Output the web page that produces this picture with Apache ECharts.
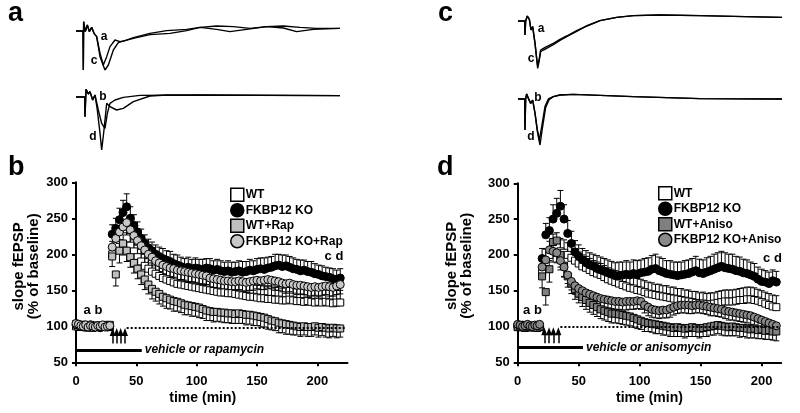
<!DOCTYPE html>
<html><head><meta charset="utf-8">
<script src="https://cdn.jsdelivr.net/npm/echarts@6/dist/echarts.min.js"></script>
<style>html,body{margin:0;padding:0;background:#fff}#c{width:800px;height:413px}</style>
</head><body><div id="c"></div>
<script>
// ===== Example traces (ms, mV) =====
const trA_top_t = [0,1.06,1.11,1.16,1.41,1.72,2.02,2.37,2.73,3.13,3.64,4.14,4.65,5.15,5.91,6.67,7.42,8.69,11.21,13.74,16.77,18.79,21.31,23.84,26.36,28.89,31.41,33.94,36.46,40];
const trA_top_v = [0,0,-0.78,0.187,-0.013,0.12,-0.013,0.073,-0.047,-0.113,-0.447,-0.68,-0.513,-0.313,-0.18,-0.213,-0.193,-0.133,-0.047,0.007,0.033,0.073,0.1,0.087,0.053,0.087,0.1,0.073,0.053,0.053];
const trC_top_t = [0,1.06,1.11,1.16,1.41,1.72,2.02,2.37,2.73,3.13,3.64,4.39,4.90,5.66,6.41,7.42,8.69,11.21,14.24,16.77,18.79,21.31,23.33,25.86,28.89,31.41,33.43,35.96,40];
const trC_top_v = [0,0,-0.78,0.187,-0.013,0.12,-0.013,0.073,-0.047,-0.113,-0.513,-0.78,-0.68,-0.38,-0.233,-0.193,-0.147,-0.073,-0.047,0.007,0.073,0.033,-0.013,0.033,0.087,0.06,-0.013,0.033,0.053];
const trB_bot_t = [0,1.31,1.36,1.52,1.87,2.12,2.53,2.88,3.38,3.89,4.39,4.75,5.15,5.91,7.17,9.70,18.79,40];
const trB_bot_v = [0,0,-0.393,0.153,0.06,0.107,-0.06,0.04,-0.26,-0.527,-0.627,-0.327,-0.127,-0.06,-0.007,0.033,0.04,0.027];
const trD_bot_t = [0,1.31,1.36,1.52,1.87,2.12,2.53,2.88,3.23,3.64,3.89,4.24,4.65,5.15,6.16,7.17,8.69,11.21,13.74,40];
const trD_bot_v = [0,0,-0.393,0.153,0.06,0.107,-0.06,0.04,-0.26,-0.727,-1.06,-0.66,-0.127,-0.193,-0.26,-0.227,-0.093,0.02,0.04,0.027];
// panel c traces
const cA_t = [0,1.01,1.06,1.16,1.41,1.72,1.97,2.22,2.58,2.83,2.98,3.23,3.43,3.84,4.34,5.35,6.36,7.37,8.89,10.40,12.42,14.95,17.47,21.52,27.58,32.63,40];
const cA_v = [0,0,-0.28,0,0.1,0.033,-0.18,-0.113,-0.447,-0.747,-0.9,-0.747,-0.58,-0.547,-0.513,-0.447,-0.367,-0.3,-0.193,-0.1,0.007,0.073,0.107,0.12,0.107,0.093,0.073];
const cC_t = [0,1.01,1.06,1.16,1.41,1.72,1.97,2.22,2.58,2.83,2.98,3.23,3.43,3.84,4.34,5.35,6.36,7.37,8.89,10.40,12.42,14.95,17.47,21.52,27.58,32.63,40];
const cC_v = [0,0,-0.28,0,0.1,0.033,-0.18,-0.113,-0.447,-0.76,-0.947,-0.78,-0.613,-0.58,-0.547,-0.473,-0.387,-0.313,-0.207,-0.1,0.007,0.073,0.107,0.12,0.107,0.093,0.073];
const cB_t = [0,1.01,1.06,1.16,1.31,1.57,1.92,2.22,2.58,2.93,3.23,3.59,4.09,4.60,5.35,6.36,8.38,12.42,17.47,27.58,40];
const cB_v = [0,0,-0.62,0,0.1,0.013,-0.087,-0.02,-0.287,-0.62,-0.82,-0.553,-0.153,0,0.047,0.08,0.093,0.073,0.047,0.007,0];
const cD_t = [0,1.01,1.06,1.16,1.31,1.57,1.92,2.22,2.58,2.93,3.33,3.69,4.19,4.70,5.35,6.36,8.38,12.42,17.47,27.58,40];
const cD_v = [0,0,-0.62,0,0.1,0.013,-0.087,-0.02,-0.287,-0.64,-0.92,-0.587,-0.167,-0.013,0.047,0.08,0.093,0.073,0.047,0.007,0];

// ===== Panel b (rapamycin) =====
const timesB = [0,2,4,6,8,10,12,14,16,18,20,22,24,26,28,30,33,36,39,42,45,48,51,54,57,60,63,66,69,72,75,78,81,84,87,90,93,96,99,102,105,108,111,114,117,120,123,126,129,132,135,138,141,144,147,150,153,156,159,162,165,168,171,174,177,180,183,186,189,192,195,198,201,204,207,210,213,216,219];
const wtB = [100,99,101,102,100,98,101,100,99,100,101,99,100,102,99, 200,212,220,225,222,212,204,196,190,184, 180,176,173,170,167,165,163,161,159,158, 157,156,155,154,153,152,151,150,149,148, 147,147,146,146,145,144,143,142,141,141, 140,139,139,138,138,137,137,136,136,137, 136,135,135,134,135,134,133,134,133,134, 133,132,133,133];
const wtBerr = [5,5,4,5,4,5,5,4,5,5,4,5,5,4,5, 18,19,20,20,19,18,18,17,17,17, 17,17,17,18,17,17,18,17,17,17, 18,17,17,18,17,18,17,17,18,17, 18,17,18,17,18,17,17,18,17,18, 17,18,17,18,18,17,18,17,18,17, 18,17,18,17,17,18,17,17,18,17, 17,18,17,17];
const koB = [102,101,100,99,101,100,102,99,100,101,98,100,101,99,100, 228,236,248,258,266,250,240,231,222,215, 209,205,200,197,194,192,190,187,185,183, 181,182,180,181,180,179,181,180,178,179, 177,176,177,175,176,177,175,176,178,177, 179,180,179,181,182,184,185,183,184,182, 180,179,177,178,176,175,173,172,170,169, 168,166,165,167];
const koBerr = [4,3,3,4,3,3,4,3,3,4,3,3,4,3,3, 13,14,16,17,18,16,15,14,13,12, 12,12,13,13,14,13,14,13,14,13, 13,14,13,14,13,14,13,14,13,14, 14,13,14,14,13,14,15,14,15,14, 15,15,16,15,15,16,15,16,15,15, 15,14,15,14,14,15,14,13,14,13, 13,14,13,13];
const wtRapB = [103,102,100,101,99,100,102,98,101,100,99,101,100,99,102, 197,172,205,215,205,196,188,180,172,165, 158,152,148,145,141,139,137,135,134,132, 130,129,128,127,126,124,122,121,120,120, 119,119,118,118,117,118,117,116,116,115, 114,113,112,110,108,107,105,104,103,102, 101,100,99,100,99,99,100,98,99,98, 97,98,97,97];
const wtRapBerr = [5,4,5,5,4,5,4,5,5,4,5,4,5,5,4, 14,16,17,16,15,14,14,14,14,14, 13,14,13,14,13,14,13,14,13,13, 14,13,14,13,14,13,14,13,14,13, 13,14,13,14,13,14,13,14,13,14, 13,14,13,14,13,13,14,13,14,13, 13,12,13,12,13,13,12,13,12,13, 13,12,13,12];
const koRapB = [104,103,101,100,102,99,101,100,99,101,100,102,99,100,101, 210,222,231,238,244,234,226,219,212,206, 200,196,191,188,185,183,181,180,178,177, 176,175,174,173,172,171,170,167,166,165, 164,163,163,162,162,163,162,161,162,163, 164,163,164,165,164,163,162,160,159,160, 158,157,157,156,155,154,155,154,155,156, 155,154,156,158];
const koRapBerr = [4,5,4,4,5,4,4,5,4,4,5,4,4,5,4, 13,14,14,15,15,14,13,12,12,12, 12,12,13,12,12,13,12,12,13,12, 12,13,12,12,13,12,12,13,12,12, 13,12,12,13,12,12,13,12,12,13, 12,12,13,12,12,13,12,12,13,12, 12,13,12,12,13,12,12,13,12,12, 13,12,12,13];
const arrowsB = [30.4,33.7,37,40.6];

// ===== Panel d (anisomycin) =====
const timesD = [0,2,4,6,8,10,12,14,16,18,20,23,26,29,32,35,38,41,44,47,50,53,56,59,62,65,68,71,74,77,80,83,86,89,92,95,98,101,104,107,110,113,116,119,122,125,128,131,134,137,140,143,146,149,152,155,158,161,164,167,170,173,176,179,182,185,188,191,194,197,200,203,206,209,212];
const wtD = [100,101,99,100,102,100,99,101,100,99, 175,190,200,210,212,205,203,200,196,192, 188,184,182,179,176,174,172,169,166,164, 162,160,158,156,154,153,151,150,148,146, 145,144,143,142,141,140,139,138,137,136, 135,134,133,132,132,131,131,132,133,134, 135,135,135,136,137,137,138,138,137,136, 134,132,130,128,127];
const wtDerr = [4,5,4,5,4,5,4,5,4,5, 17,18,19,19,19,18,18,17,17,17, 16,16,16,16,16,16,16,16,16,16, 16,16,16,16,16,16,16,16,16,16, 16,15,16,15,16,15,16,15,16,15, 16,15,16,15,16,15,16,15,16,16, 16,16,16,16,16,17,17,17,17,16, 16,16,16,16,16];
const koD = [101,100,102,99,100,101,99,100,102,100, 195,228,234,250,258,268,250,230,216,204, 198,193,189,186,184,181,179,177,175,173, 171,171,172,173,172,174,173,175,176,177, 180,181,178,176,174,173,172,171,172,173, 174,176,178,175,174,176,178,180,182,184, 182,181,180,178,177,175,174,172,170,166, 163,162,160,164,162];
const koDerr = [4,3,4,3,4,3,4,3,4,3, 14,16,18,20,21,22,20,18,17,16, 16,16,17,17,17,18,18,18,18,18, 18,19,18,19,18,19,19,18,19,19, 19,20,19,19,18,19,18,19,18,19, 19,19,20,19,19,20,20,21,21,21, 21,20,21,20,20,19,19,18,18,17, 17,16,16,15,15];
const wtAnD = [99,100,101,98,100,99,101,100,98,100, 170,148,180,218,220,200,185,170,160,152, 146,141,137,133,130,127,124,122,120,118, 118,117,116,115,114,112,110,108,106,105, 104,103,102,101,100,99,98,99,98,97, 98,99,98,97,98,99,100,101,102,101, 100,99,100,99,98,98,97,96,97,95, 96,94,95,93,93];
const wtAnDerr = [4,4,5,4,4,5,4,4,5,4, 16,18,18,20,18,17,16,15,14,14, 13,13,13,13,13,13,13,13,13,13, 13,13,13,13,13,13,13,12,13,12, 12,13,12,13,12,13,12,13,12,13, 12,13,12,13,12,13,12,13,12,13, 13,12,13,12,13,12,13,12,13,12, 13,12,13,12,13];
const koAnD = [103,102,100,101,103,101,100,102,101,103, 183,193,207,205,203,192,183,172,163,157, 153,150,147,145,143,141,139,138,137,136, 135,135,134,135,135,135,136,135,130,127, 124,123,122,123,123,125,127,129,130,130, 130,129,130,130,129,128,127,126,125,124, 122,121,120,119,118,117,116,115,113,111, 109,107,105,103,101];
const koAnDerr = [4,5,4,4,5,4,4,5,4,4, 13,14,15,15,14,13,13,12,12,12, 12,12,12,12,11,11,11,11,11,11, 11,11,11,12,11,11,11,11,11,12, 11,11,11,11,11,12,11,11,11,11, 12,11,11,11,11,11,12,11,11,11, 11,12,11,11,11,11,11,12,11,11, 11,11,11,12,11];
const arrowsD = [21.8,25.7,29.2,33.3];

const yTicks = [50,100,150,200,250,300];
const xTicks = [0,50,100,150,200];

// ===== build =====
const FONT = '"Liberation Sans", Arial, Helvetica, sans-serif';
const chart = echarts.init(document.getElementById('c'), null, {renderer:'canvas'});
const zip = (a,b) => a.map((x,i)=>[x,b[i]]);
const series = [];

function addTrace(g, t, v){
  series.push({type:'line', xAxisIndex:g, yAxisIndex:g, data:zip(t,v), showSymbol:false, symbol:'none',
    lineStyle:{color:'#000', width:1.4}, silent:true, animation:false, clip:false});
}
function renderErr(params, api){
  const t = api.value(0), lo = api.value(2), hi = api.value(3);
  const a = api.coord([t, lo]), b = api.coord([t, hi]);
  const st = () => ({stroke:'#000', lineWidth:1});
  return {type:'group', children:[
    {type:'line', shape:{x1:a[0],y1:a[1],x2:b[0],y2:b[1]}, style:st()},
    {type:'line', shape:{x1:a[0]-3,y1:a[1],x2:a[0]+3,y2:a[1]}, style:st()},
    {type:'line', shape:{x1:b[0]-3,y1:b[1],x2:b[0]+3,y2:b[1]}, style:st()}
  ]};
}
function addGroup(g, name, times, vals, errs, dir, symbol, size, fill, extra){
  series.push({type:'custom', xAxisIndex:g, yAxisIndex:g, renderItem:renderErr, silent:true, animation:false, clip:false,
    encode:{x:0, y:[1,2,3]},
    data: times.map((t,i)=>[t, vals[i], dir==='down'? vals[i]-errs[i] : vals[i], dir==='up'? vals[i]+errs[i] : vals[i]])});
  const s = {type:'scatter', name, xAxisIndex:g, yAxisIndex:g, data:zip(times, vals), symbol, symbolSize:size,
    itemStyle:{color:fill, borderColor:'#000', borderWidth:1, opacity:1}, silent:true, animation:false};
  if (extra) s.markLine = extra;
  series.push(s);
}
function annot(dotStart, dotEnd, dotY, barEnd, barY, barText, arrows, aLo, aHi){
  return {silent:true, animation:false, symbol:['none','none'], label:{show:false},
    data:[
      [{coord:[dotStart,dotY], lineStyle:{type:[2,2], width:2, color:'#000'}}, {coord:[dotEnd,dotY]}],
      [{coord:[0,barY], lineStyle:{type:'solid', width:3, color:'#000'},
        label:{show:true, position:'end', distance:3, formatter:barText, color:'#000', fontFamily:FONT, fontSize:12, fontWeight:'bold', fontStyle:'italic'}},
       {coord:[barEnd,barY]}],
      ...arrows.map(t=>[{coord:[t,aLo], lineStyle:{type:'solid', width:1.5, color:'#000'}},
                        {coord:[t,aHi], symbol:'triangle', symbolSize:[6,8]}])
    ]};
}

// traces
addTrace(0, trA_top_t, trA_top_v); addTrace(0, trC_top_t, trC_top_v);
addTrace(1, trB_bot_t, trB_bot_v); addTrace(1, trD_bot_t, trD_bot_v);
addTrace(2, cA_t, cA_v); addTrace(2, cC_t, cC_v);
addTrace(3, cB_t, cB_v); addTrace(3, cD_t, cD_v);

// panel b
addGroup(4, 'WT', timesB, wtB, wtBerr, 'up', 'rect', 7, '#ffffff',
  annot(42, 223, 98, 54.5, 67, 'vehicle or rapamycin', arrowsB, 76, 92));
addGroup(4, 'FKBP12 KO', timesB, koB, koBerr, 'up', 'circle', 8, '#000000');
addGroup(4, 'WT+Rap', timesB, wtRapB, wtRapBerr, 'down', 'rect', 7, '#bfbfbf');
addGroup(4, 'FKBP12 KO+Rap', timesB, koRapB, koRapBerr, 'down', 'circle', 8, '#c8c8c8');
// panel d
addGroup(5, 'WT', timesD, wtD, wtDerr, 'up', 'rect', 7, '#ffffff',
  annot(35, 214, 100, 53.5, 71, 'vehicle or anisomycin', arrowsD, 76.5, 93.3));
addGroup(5, 'FKBP12 KO', timesD, koD, koDerr, 'up', 'circle', 8, '#000000');
addGroup(5, 'WT+Aniso', timesD, wtAnD, wtAnDerr, 'down', 'rect', 7, '#808080');
addGroup(5, 'FKBP12 KO+Aniso', timesD, koAnD, koAnDerr, 'down', 'circle', 8, '#8a8a8a');

const hidden = (g, min, max) => ({gridIndex:g, type:'value', min, max, show:false});
function plotX(g, max, shift){
  return {gridIndex:g, type:'value', min:0, max, interval:50,
    axisLine:{show:true, onZero:false, lineStyle:{color:'#000', width:2}},
    axisTick:{show:true, length:4, lineStyle:{color:'#000', width:2}, customValues:xTicks},
    axisLabel:{customValues:xTicks, color:'#000', fontFamily:FONT, fontSize:13, fontWeight:'bold', margin:13},
    splitLine:{show:false},
    name:'time (min)', nameLocation:'middle', nameGap:29,
    nameTextStyle:{color:'#000', fontFamily:FONT, fontSize:14, fontWeight:'bold', padding:[0,shift,0,0]}};
}
function plotY(g, gap, shift){
  return {gridIndex:g, type:'value', min:50, max:300, interval:50,
    axisLine:{show:true, onZero:false, lineStyle:{color:'#000', width:2}},
    axisTick:{show:true, length:4, lineStyle:{color:'#000', width:2}},
    axisLabel:{color:'#000', fontFamily:FONT, fontSize:13, fontWeight:'bold', margin:8},
    splitLine:{show:false},
    name:'slope fEPSP\n(% of baseline)', nameLocation:'middle', nameGap:gap, nameRotate:90,
    nameTextStyle:{color:'#000', fontFamily:FONT, fontSize:15, fontWeight:'bold', lineHeight:15, padding:[0,0,0,shift]}};
}
const legendCommon = {orient:'vertical', itemWidth:13, itemHeight:13, itemGap:1, selectedMode:false, padding:0,
  textStyle:{color:'#000', fontFamily:FONT, fontSize:12, fontWeight:'bold', padding:[0,0,0,-3]},
  itemStyle:{borderColor:'#000', borderWidth:1.5}};

const txt = (x, y, s, size, align, extra) => Object.assign({type:'text', x, y, silent:true,
  style:{text:s, fill:'#000', font:'bold '+size+'px '+FONT, textAlign:align||'center', textVerticalAlign:'middle'}}, extra||{});

chart.setOption({
  animation:false,
  backgroundColor:'#fff',
  grid:[
    {left:76, top:11, width:264, height:60},
    {left:76, top:77, width:264, height:80},
    {left:518, top:1, width:264, height:70},
    {left:518, top:79, width:264, height:70},
    {left:76, top:182.3, width:271.5, height:180},
    {left:517.7, top:183.3, width:263.5, height:179}
  ],
  xAxis:[hidden(0,0,40), hidden(1,0,40), hidden(2,0,40), hidden(3,0,40), plotX(4,225,18), plotX(5,216,0)],
  yAxis:[hidden(0,-0.8,0.4), hidden(1,-1.2,0.4), hidden(2,-1.0,0.4), hidden(3,-1.0,0.4), plotY(4,35,12), plotY(5,43,14)],
  legend:[
    Object.assign({}, legendCommon, {left:230, top:187.5, data:['WT','FKBP12 KO','WT+Rap','FKBP12 KO+Rap']}),
    Object.assign({}, legendCommon, {left:658, top:186, data:['WT','FKBP12 KO','WT+Aniso','FKBP12 KO+Aniso']})
  ],
  graphic:[
    txt(8, 14, 'a', 27, 'left'), txt(8, 168, 'b', 27, 'left'),
    txt(438, 14, 'c', 27, 'left'), txt(437, 168, 'd', 27, 'left'),
    txt(104, 37, 'a', 12), txt(94, 61, 'c', 12), txt(103, 97, 'b', 12), txt(93, 137, 'd', 12),
    txt(541, 29, 'a', 12), txt(531, 59, 'c', 12), txt(538, 98, 'b', 12), txt(531, 137, 'd', 12),
    txt(93, 310.5, 'a b', 13), txt(334, 256, 'c d', 13),
    txt(532.5, 310.5, 'a b', 13), txt(772.5, 258, 'c d', 13)
  ],
  series
});
</script></body></html>
